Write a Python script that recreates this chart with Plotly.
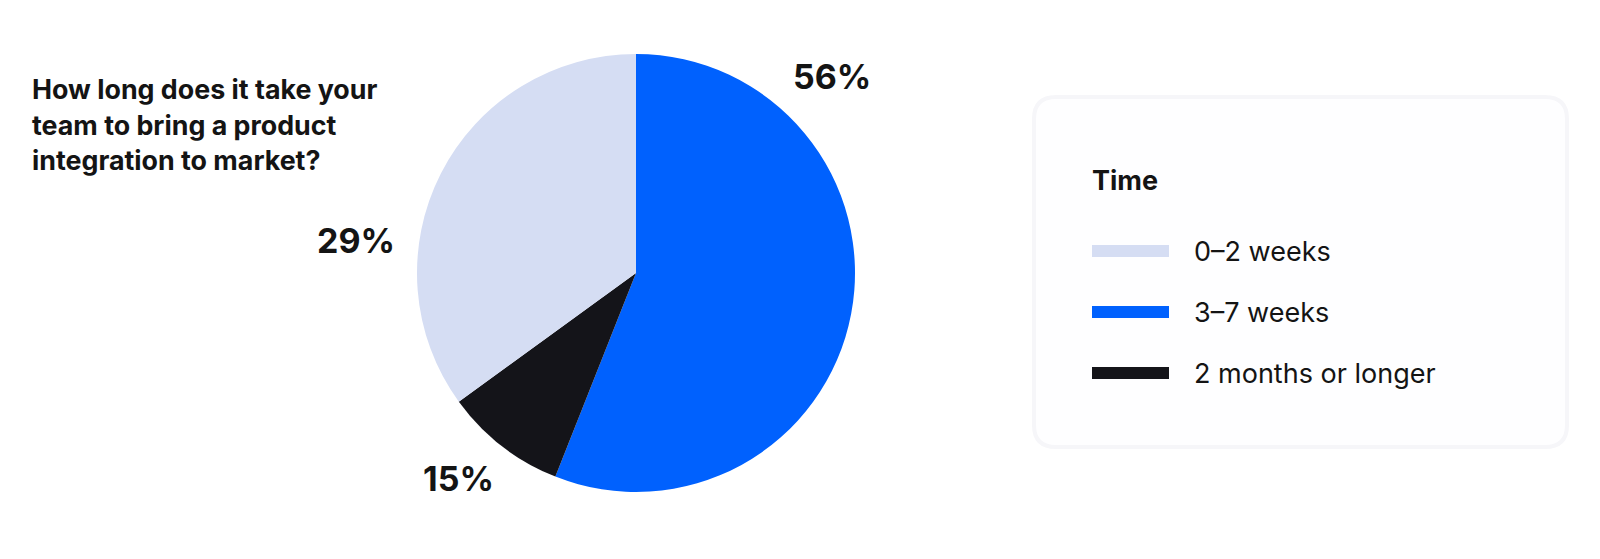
import plotly.graph_objects as go

# ---- data ----
categories = ["3–7 weeks", "2 months or longer", "0–2 weeks"]
slice_shares = [56, 9, 35]          # drawn angular shares
slice_labels = ["56%", "15%", "29%"]  # printed percentages
slice_colors = ["#0061FE", "#141419", "#D5DDF3"]

legend_order = ["0–2 weeks", "3–7 weeks", "2 months or longer"]
legend_title = "Time"
title_lines = ["How long does it take your", "team to bring a product", "integration to market?"]

W, H = 1600, 559
OFF = 8  # page body margin added by the html page
FONT = "Inter"

fig = go.Figure()

# pie: centre (636,273), radius 219 px (page coordinates)
cx, cy, r = 636, 273, 219
fig.add_trace(go.Pie(
    values=slice_shares,
    labels=categories,
    marker=dict(colors=slice_colors, line=dict(width=0)),
    sort=False,
    direction="clockwise",
    rotation=0,
    textinfo="none",
    hoverinfo="label+text",
    hovertext=slice_labels,
    showlegend=False,
    domain=dict(x=[(cx - OFF - r) / W, (cx - OFF + r) / W],
                y=[1 - (cy - OFF + r) / H, 1 - (cy - OFF - r) / H]),
))

annotations = []
# slice percentage labels
label_pos = {"56%": (832, 76), "15%": (458, 478), "29%": (356, 240)}
for lab in slice_labels:
    px, py = label_pos[lab]
    annotations.append(dict(x=px, y=py, xref="x", yref="y", text=lab, showarrow=False,
                            xanchor="center", yanchor="middle",
                            font=dict(family=FONT, size=34, color="#141414", weight=700)))

# question text
for i, line in enumerate(title_lines):
    annotations.append(dict(x=30, y=89 + 35.5 * i, xref="x", yref="y", text=line, showarrow=False,
                            xanchor="left", yanchor="middle",
                            font=dict(family=FONT, size=26.8, color="#141414", weight=700)))

shapes = []
# legend card
x0, y0, x1, y1, rad = 1034, 97, 1567, 447, 22
path = (f"M {x0+rad},{y0} L {x1-rad},{y0} Q {x1},{y0} {x1},{y0+rad} "
        f"L {x1},{y1-rad} Q {x1},{y1} {x1-rad},{y1} L {x0+rad},{y1} "
        f"Q {x0},{y1} {x0},{y1-rad} L {x0},{y0+rad} Q {x0},{y0} {x0+rad},{y0} Z")
shapes.append(dict(type="path", path=path, xref="x", yref="y",
                   fillcolor="#FEFEFF", line=dict(color="#F6F6F9", width=4), layer="below"))

annotations.append(dict(x=1090, y=180, xref="x", yref="y", text=legend_title, showarrow=False,
                        xanchor="left", yanchor="middle",
                        font=dict(family=FONT, size=27, color="#141414", weight=700)))

color_of = dict(zip(categories, slice_colors))
for i, cat in enumerate(legend_order):
    yc = 251 + 61 * i
    shapes.append(dict(type="rect", xref="x", yref="y", x0=1092, x1=1169, y0=yc - 6, y1=yc + 6,
                       fillcolor=color_of[cat], line=dict(width=0)))
    annotations.append(dict(x=1192, y=yc, xref="x", yref="y", text=cat, showarrow=False,
                            xanchor="left", yanchor="middle",
                            font=dict(family=FONT, size=27, color="#141414")))

fig.update_layout(
    width=W, height=H,
    margin=dict(l=0, r=0, t=0, b=0),
    paper_bgcolor="white", plot_bgcolor="rgba(0,0,0,0)",
    xaxis=dict(range=[OFF, W + OFF], visible=False, fixedrange=True, domain=[0, 1]),
    yaxis=dict(range=[H + OFF, OFF], visible=False, fixedrange=True, domain=[0, 1]),
    annotations=annotations,
    shapes=shapes,
    showlegend=False,
)

fig.write_html("out.html")
